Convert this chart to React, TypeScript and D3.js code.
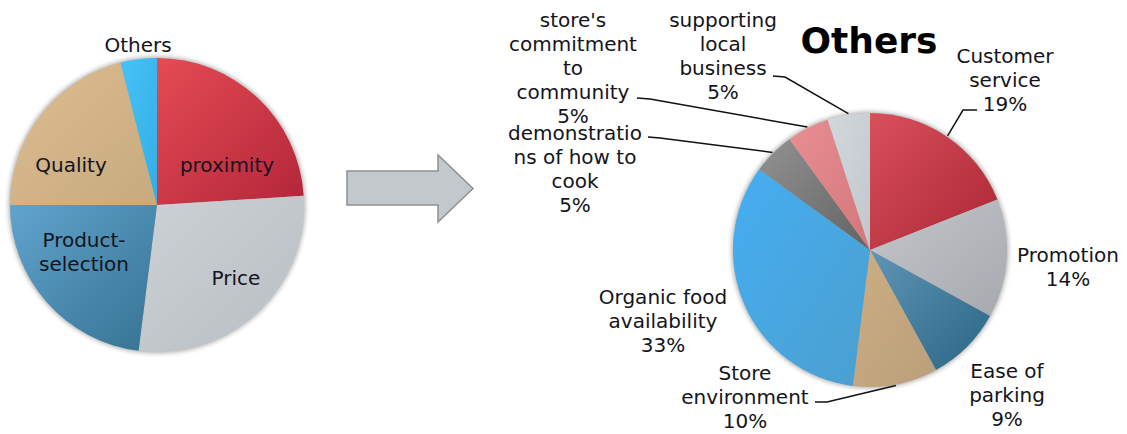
import React from "react";
import * as d3 from "d3";

// ---------- data ----------
const leftCategories = ["proximity", "Price", "Product-selection", "Quality", "Others"];
const leftValues = [24, 28, 23, 21, 4];
const leftLabelLines = [["proximity"], ["Price"], ["Product-", "selection"], ["Quality"], ["Others"]];

const rightTitle = "Others";
const rightCategories = [
  "Customer service",
  "Promotion",
  "Ease of parking",
  "Store environment",
  "Organic food availability",
  "demonstrations of how to cook",
  "store's commitment to community",
  "supporting local business",
];
const rightValues = [19, 14, 9, 10, 33, 5, 5, 5];
const rightLabelLines = [
  ["Customer", "service"],
  ["Promotion"],
  ["Ease of", "parking"],
  ["Store", "environment"],
  ["Organic food", "availability"],
  ["demonstratio", "ns of how to", "cook"],
  ["store's", "commitment", "to", "community"],
  ["supporting", "local", "business"],
];

// ---------- styles / layout ----------
const leftColors = [
  ["#e54b53", "#b2263a"],
  ["#ccd1d5", "#b8bec3"],
  ["#60a3cc", "#367393"],
  ["#dbbd90", "#c8aa7f"],
  ["#45c3f7", "#35ade6"],
];
const rightColors = [
  ["#d8505a", "#ab2536"],
  ["#c3c7cb", "#a6aaae"],
  ["#5f95b6", "#2b6684"],
  ["#cdae82", "#b99f7b"],
  ["#45aef2", "#4b9fce"],
  ["#929292", "#626262"],
  ["#e98f94", "#d2767b"],
  ["#d3d8dc", "#c2c7cb"],
];

const FONT = "'DejaVu Sans', Verdana, sans-serif";
const TEXT = "#141420";
const LINE_H = 24;

const leftCenter = { x: 157, y: 205, r: 147 };
const rightCenter = { x: 870, y: 250, r: 137 };

// label anchor: center x, first baseline y
const leftLabelPos = [
  { x: 227, y: 172 },
  { x: 236, y: 285 },
  { x: 84, y: 247 },
  { x: 71, y: 172 },
  { x: 138, y: 52 },
];
const rightLabelPos = [
  { x: 1005, y: 63, lineFrom: [977, 110], elbow: [963, 110] },
  { x: 1068, y: 262 },
  { x: 1007, y: 378 },
  { x: 745, y: 380, lineFrom: [815, 402], elbow: [827, 402] },
  { x: 663, y: 304 },
  { x: 575, y: 140, lineFrom: [648, 137], elbow: [660, 138] },
  { x: 573, y: 27, lineFrom: [637, 98], elbow: [650, 99] },
  { x: 723, y: 27, lineFrom: [773, 76], elbow: [785, 77] },
];

function PieGroup({
  id,
  values,
  colors,
  center,
}: {
  id: string;
  values: number[];
  colors: string[][];
  center: { x: number; y: number; r: number };
}) {
  const arcs = d3.pie<number>().sort(null).value((d) => d)(values);
  const arc = d3.arc<d3.PieArcDatum<number>>().innerRadius(0).outerRadius(center.r);
  return (
    <g transform={`translate(${center.x},${center.y})`}>
      <defs>
        {colors.map((c, i) => (
          <linearGradient key={i} id={`${id}-g${i}`} x1="0" y1="0" x2="1" y2="1">
            <stop offset="0%" stopColor={c[0]} />
            <stop offset="100%" stopColor={c[1]} />
          </linearGradient>
        ))}
      </defs>
      <circle r={center.r + 1} fill="#000" opacity={0.35} filter="url(#softShadow)" />
      {arcs.map((a, i) => (
        <path key={i} d={arc(a) || ""} fill={`url(#${id}-g${i})`} />
      ))}
    </g>
  );
}

function MultiText({ x, y, lines, size = 20, weight = "normal" }: any) {
  return (
    <text x={x} y={y} textAnchor="middle" fontFamily={FONT} fontSize={size} fontWeight={weight} fill={TEXT}>
      {lines.map((l: string, i: number) => (
        <tspan key={i} x={x} y={y + i * LINE_H}>
          {l}
        </tspan>
      ))}
    </text>
  );
}

export default function App() {
  const rightArcs = d3.pie<number>().sort(null).value((d) => d)(rightValues);
  const pct = d3.format(".0f");

  // arrow geometry
  const arrow = { x0: 347, x1: 438, x2: 473, yTop: 171, yBot: 205, hTop: 155, hBot: 222 };
  const arrowMid = (arrow.hTop + arrow.hBot) / 2;

  return (
    <svg
      width={1127}
      height={434}
      style={{ position: "absolute", left: 0, top: 0, background: "#fff" }}
    >
      <defs>
        <filter id="softShadow" x="-20%" y="-20%" width="140%" height="140%">
          <feGaussianBlur stdDeviation="2.5" />
        </filter>
      </defs>
      <rect width={1127} height={434} fill="#fff" />

      {/* Left pie */}
      <PieGroup id="L" values={leftValues} colors={leftColors} center={leftCenter} />
      {leftCategories.map((c, i) => (
        <MultiText key={c} x={leftLabelPos[i].x} y={leftLabelPos[i].y} lines={leftLabelLines[i]} />
      ))}

      {/* Arrow */}
      <path
        d={`M${arrow.x0},${arrow.yTop} L${arrow.x1},${arrow.yTop} L${arrow.x1},${arrow.hTop} L${arrow.x2},${arrowMid} L${arrow.x1},${arrow.hBot} L${arrow.x1},${arrow.yBot} L${arrow.x0},${arrow.yBot} Z`}
        fill="#c3c8cc"
        stroke="#8c9195"
        strokeWidth={1.5}
      />

      {/* Right pie */}
      <PieGroup id="R" values={rightValues} colors={rightColors} center={rightCenter} />
      <text
        x={869}
        y={53}
        textAnchor="middle"
        fontFamily={FONT}
        fontSize={36}
        fontWeight="bold"
        fill="#000"
      >
        {rightTitle}
      </text>

      {/* leader lines */}
      {rightArcs.map((a, i) => {
        const p = rightLabelPos[i];
        if (!p.lineFrom) return null;
        const mid = (a.startAngle + a.endAngle) / 2;
        const rr = rightCenter.r + 1;
        const ex = rightCenter.x + rr * Math.sin(mid);
        const ey = rightCenter.y - rr * Math.cos(mid);
        return (
          <polyline
            key={i}
            points={`${p.lineFrom[0]},${p.lineFrom[1]} ${p.elbow![0]},${p.elbow![1]} ${ex},${ey}`}
            fill="none"
            stroke="#111"
            strokeWidth={1.5}
          />
        );
      })}

      {rightCategories.map((c, i) => (
        <MultiText
          key={c}
          x={rightLabelPos[i].x}
          y={rightLabelPos[i].y}
          lines={[...rightLabelLines[i], `${pct(rightValues[i])}%`]}
        />
      ))}
    </svg>
  );
}
